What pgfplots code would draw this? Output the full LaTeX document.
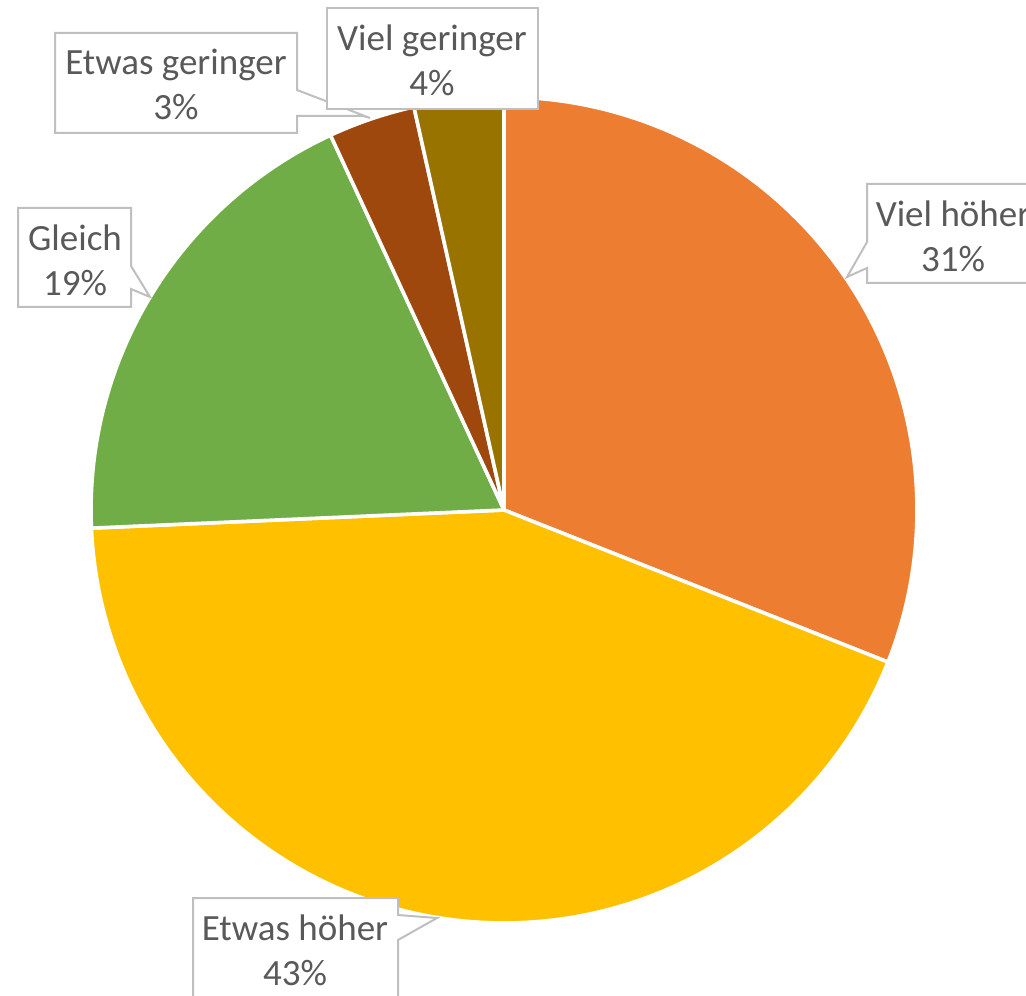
\documentclass[border=0pt]{standalone}
\usepackage{pgfplots}
\pgfplotsset{compat=1.18}
\usepackage{fontspec}
\setmainfont{Carlito}
\definecolor{cOrange}{HTML}{ED7D31}
\definecolor{cYellow}{HTML}{FFC000}
\definecolor{cGreen}{HTML}{70AD47}
\definecolor{cBrown}{HTML}{9E480E}
\definecolor{cOlive}{HTML}{997300}
\definecolor{cText}{HTML}{595959}
\definecolor{cBox}{HTML}{BFBFBF}
% slice: start percent, end percent (cumulative), colour
\newcommand{\slice}[3]{%
  \addplot[fill=#3, draw=white, line width=1.8pt, line join=round,
    domain=90-3.6*#2:90-3.6*#1, samples=90, variable=\t]
    ({504+413*cos(\t)},{485+413*sin(\t)}) -- (axis cs:504,485) -- cycle;}
\begin{document}
\begin{tikzpicture}
\useasboundingbox (0,0) rectangle (513pt,497.5pt);
\begin{axis}[at={(0,0)}, anchor=south west, scale only axis,
  width=513pt, height=497.5pt, xmin=0, xmax=1026, ymin=0, ymax=995,
  hide axis, clip=false]
% values (percent): Viel höher 31.0, Etwas höher 43.3, Gleich 18.8, Etwas geringer 3.4, Viel geringer 3.5
\slice{0}{31.0}{cOrange}
\slice{31.0}{74.3}{cYellow}
\slice{74.3}{93.1}{cGreen}
\slice{93.1}{96.5}{cBrown}
\slice{96.5}{100}{cOlive}
% callout boxes (pixel coords, y flipped)
\tikzset{cbox/.style={draw=cBox, fill=white, line width=1pt, line join=miter},
  ctext/.style={text=cText, font=\fontsize{18.5}{22.5}\selectfont, align=center, inner sep=0pt}}
% Etwas geringer
\draw[cbox] (axis cs:55,962) -- (axis cs:297,962) -- (axis cs:297,905) -- (axis cs:370,877)
  -- (axis cs:363,879) -- (axis cs:297,879) -- (axis cs:297,862) -- (axis cs:55,862) -- cycle;
\node[ctext] at (axis cs:176,911) {Etwas geringer\\3\%};
% Viel geringer
\draw[cbox] (axis cs:327,987) rectangle (axis cs:538,886);
\node[ctext] at (axis cs:432,935) {Viel geringer\\4\%};
% Viel höher
\draw[cbox] (axis cs:867,811) -- (axis cs:1040,811) -- (axis cs:1040,712) -- (axis cs:867,712)
  -- (axis cs:867,727) -- (axis cs:847,718) -- (axis cs:867,753) -- cycle;
\node[ctext] at (axis cs:953,759) {Viel höher\\31\%};
% Gleich
\draw[cbox] (axis cs:18,787) -- (axis cs:131,787) -- (axis cs:131,729) -- (axis cs:150,698)
  -- (axis cs:131,706) -- (axis cs:131,688) -- (axis cs:18,688) -- cycle;
\node[ctext] at (axis cs:75,735) {Gleich\\19\%};
% Etwas höher
\draw[cbox] (axis cs:193,97) -- (axis cs:398,97) -- (axis cs:398,80) -- (axis cs:437,77)
  -- (axis cs:398,55) -- (axis cs:398,-10) -- (axis cs:193,-10) -- cycle;
\node[ctext] at (axis cs:295,45) {Etwas höher\\43\%};
\end{axis}
\end{tikzpicture}
\end{document}
